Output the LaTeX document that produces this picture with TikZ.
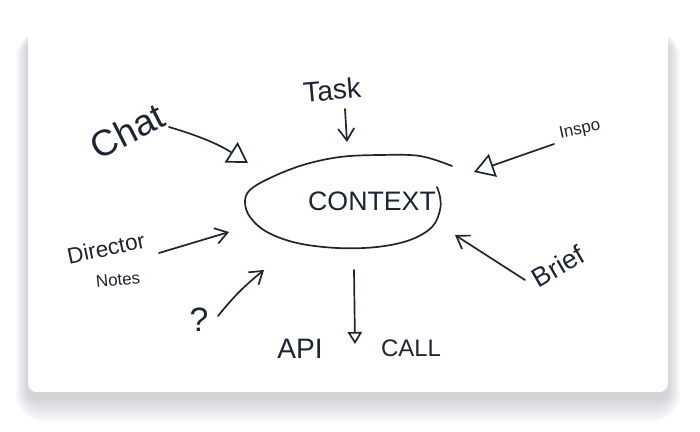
\documentclass[tikz,border=0pt]{standalone}
\usepackage{fontspec}
\setmainfont{Liberation Sans}
\usetikzlibrary{arrows.meta}
\definecolor{ink}{RGB}{31,36,51}
\definecolor{haze}{RGB}{70,76,92}
\tikzset{
  >={Straight Barb[length=3mm,width=4mm]},
  word/.style={text=ink,inner sep=1pt,font=\fontsize{#1}{#1}\selectfont},
  word/.default=16,
  flow/.style={->,draw=ink,line width=1.2pt,line cap=round},
  open flow/.style={-{Triangle[open,#1]},draw=ink,line width=1.2pt,line cap=round},
  open flow/.default={length=5mm,width=6mm},
  blob/.style={draw=ink,line width=1.2pt,line cap=round},
}

\begin{document}
\begin{tikzpicture}[x=0.025cm,y=-0.025cm]
  \useasboundingbox (0,0) rectangle (700,432);
  \fill[white] (0,0) rectangle (700,432);
  % card and its shadow
  \foreach \s [evaluate=\s as \r using 6+0.7*\s] in {1,...,20}
    \fill[haze,opacity=0.011,rounded corners=\r pt] ({28-0.6*\s},{40-0.5*\s}) rectangle ({668+0.6*\s},{398+1.2*\s});
  \fill[white,rounded corners=6pt] (28,20) rectangle (668,392);
  % the context blob
  \draw[blob] plot[smooth,tension=0.6] coordinates {(452,166) (420,156) (380,155) (340,157) (303,165) (270,178) (250,190) (245,202) (250,217) (267,232) (297,243) (337,248) (377,247) (410,240) (432,227) (440,210) (440,197) (437,187)};
  \node[word=19] (ctx) at (372,201) {CONTEXT};
  \node[word=26,rotate=27] (chat) at (127,131) {Chat};
  \node[word=20,rotate=5] (task) at (332,90) {Task};
  \node[word=12,rotate=12] (inspo) at (580,130) {Inspo};
  \node[word=16,rotate=12] (director) at (106,248) {Director};
  \node[word=12,rotate=6] (notes) at (118,280) {Notes};
  \node[word=24] (what) at (199,320) {?};
  \node[word=20] (api) at (300,349) {API};
  \node[word=17] (call) at (411,348) {CALL};
  \node[word=19,rotate=30] (brief) at (558,266) {Brief};
  % loose ends of the strokes
  \coordinate (chat-out) at (169,127);     \coordinate (chat-in) at (248,163);
  \coordinate (task-out) at (345,109);     \coordinate (task-in) at (347,142);
  \coordinate (inspo-out) at (554,144);    \coordinate (inspo-in) at (474,172);
  \coordinate (director-out) at (159,253); \coordinate (director-in) at (229,232);
  \coordinate (what-out) at (218,316);     \coordinate (what-in) at (264,270);
  \coordinate (brief-out) at (525,280);    \coordinate (brief-in) at (455,235);
  \coordinate (ctx-foot) at (354,270);     \coordinate (api-in) at (355,344);
  \draw[open flow] (chat-out) to[bend left=8] (chat-in);
  \draw[flow] (task-out) -- (task-in);
  \draw[open flow] (inspo-out) -- (inspo-in);
  \draw[flow] (director-out) -- (director-in);
  \draw[flow] (what-out) to[bend left=6] (what-in);
  \draw[flow] (brief-out) -- (brief-in);
  \draw[open flow={length=3mm,width=3.6mm}] (ctx-foot) -- (api-in);
\end{tikzpicture}
\end{document}
